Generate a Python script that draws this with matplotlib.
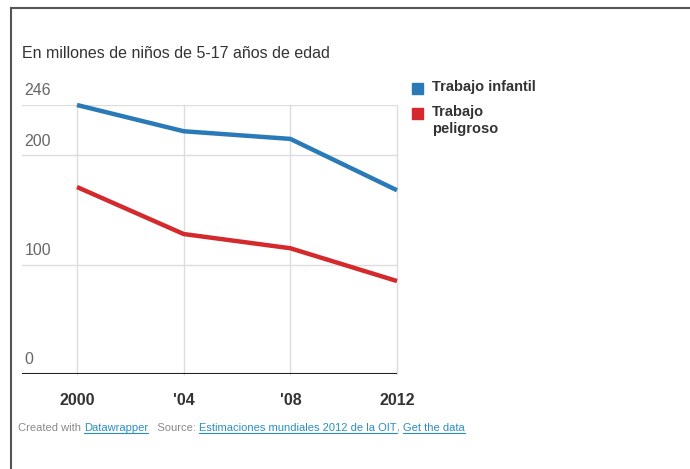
import matplotlib
matplotlib.use("Agg")
import matplotlib.pyplot as plt
from matplotlib.lines import Line2D
from matplotlib.patches import Rectangle

# data (millions of children, 5-17)
years = [2000, 2004, 2008, 2012]
year_labels = ["2000", "'04", "'08", "2012"]
child_labour = [246, 222, 215, 168]
hazardous_work = [171, 128, 115, 85]
y_ticks = [0, 100, 200, 246]

title = "En millones de niños de 5-17 años de edad"
series_names = ["Trabajo infantil", "Trabajo\npeligroso"]

BLUE = "#2a7ab8"
RED = "#d52a2d"
W, H = 690, 469

plt.rcParams["font.family"] = ["Liberation Sans", "DejaVu Sans"]

fig = plt.figure(figsize=(W / 100, H / 100), dpi=100)


def px(x, y):
    # pixel coords (top-left origin) -> figure fraction
    return x / W, 1 - y / H


# frame lines top and left
fig.add_artist(Line2D([11 / W, 1], [1 - 8 / H, 1 - 8 / H], color="#555555", lw=1.5))
fig.add_artist(Line2D([11 / W, 11 / W], [1 - 8 / H, 0], color="#555555", lw=1.5))

# plot area: x 22..397 px, y 105..374 px
left, right, top, bottom = 22, 397, 105, 374
ax = fig.add_axes([left / W, 1 - bottom / H, (right - left) / W, (bottom - top) / H])
x0 = years[0] - (77 - left) / ((right - 77) / (years[-1] - years[0]))
ax.set_xlim(x0, years[-1])
ax.set_ylim(0, 246)
for s in ax.spines.values():
    s.set_visible(False)
ax.set_xticks([])
ax.set_yticks([])

for yv in y_ticks:
    if yv > 0:
        ax.axhline(yv, color="#dddddd", lw=1, zorder=1)
    ax.text(0.006, yv + 6, str(yv), transform=ax.get_yaxis_transform(),
            fontsize=11.5, color="#666666", va="bottom", ha="left")
for xv in years:
    ax.axvline(xv, color="#dddddd", lw=1, zorder=1, clip_on=False)
ax.axhline(0, color="#222222", lw=1.5, zorder=3)

ax.plot(years, child_labour, color=BLUE, lw=3.2, solid_capstyle="butt", clip_on=False, zorder=4)
ax.plot(years, hazardous_work, color=RED, lw=3.2, solid_capstyle="butt", clip_on=False, zorder=4)

for xv, lab in zip(years, year_labels):
    ax.text(xv, -0.1, lab, transform=ax.get_xaxis_transform(), ha="center", va="center",
            fontsize=11.5, fontweight="bold", color="#333333")

# title
fig.text(*px(22, 53), title, fontsize=11.5, color="#333333", va="center", ha="left")

# legend
for (yy, col, name) in [(83, BLUE, series_names[0]), (108, RED, series_names[1])]:
    fig.add_artist(Rectangle(px(412, yy + 11), 11 / W, 11 / H, color=col, transform=fig.transFigure))
    fig.text(*px(432, yy - 3), name, fontsize=10.5, fontweight="bold", color="#333333",
             va="top", ha="left", linespacing=1.3)

# footer, chained pieces
pieces = [("Created with ", "#888888", False), ("Datawrapper", "#2a8fc0", True),
          ("   Source: ", "#888888", False),
          ("Estimaciones mundiales 2012 de la OIT", "#2a8fc0", True),
          (", ", "#888888", False), ("Get the data", "#2a8fc0", True)]
renderer = fig.canvas.get_renderer()
xpos = 18
for txt, col, link in pieces:
    t = fig.text(*px(xpos, 431), txt, fontsize=8, color=col, va="baseline", ha="left")
    bb = t.get_window_extent(renderer)
    if link:
        fig.add_artist(Line2D([xpos / W, (xpos + bb.width) / W], [1 - 433 / H] * 2,
                              color=col, lw=0.8))
    xpos += bb.width

fig.savefig("out.png", dpi=100, facecolor="white")
